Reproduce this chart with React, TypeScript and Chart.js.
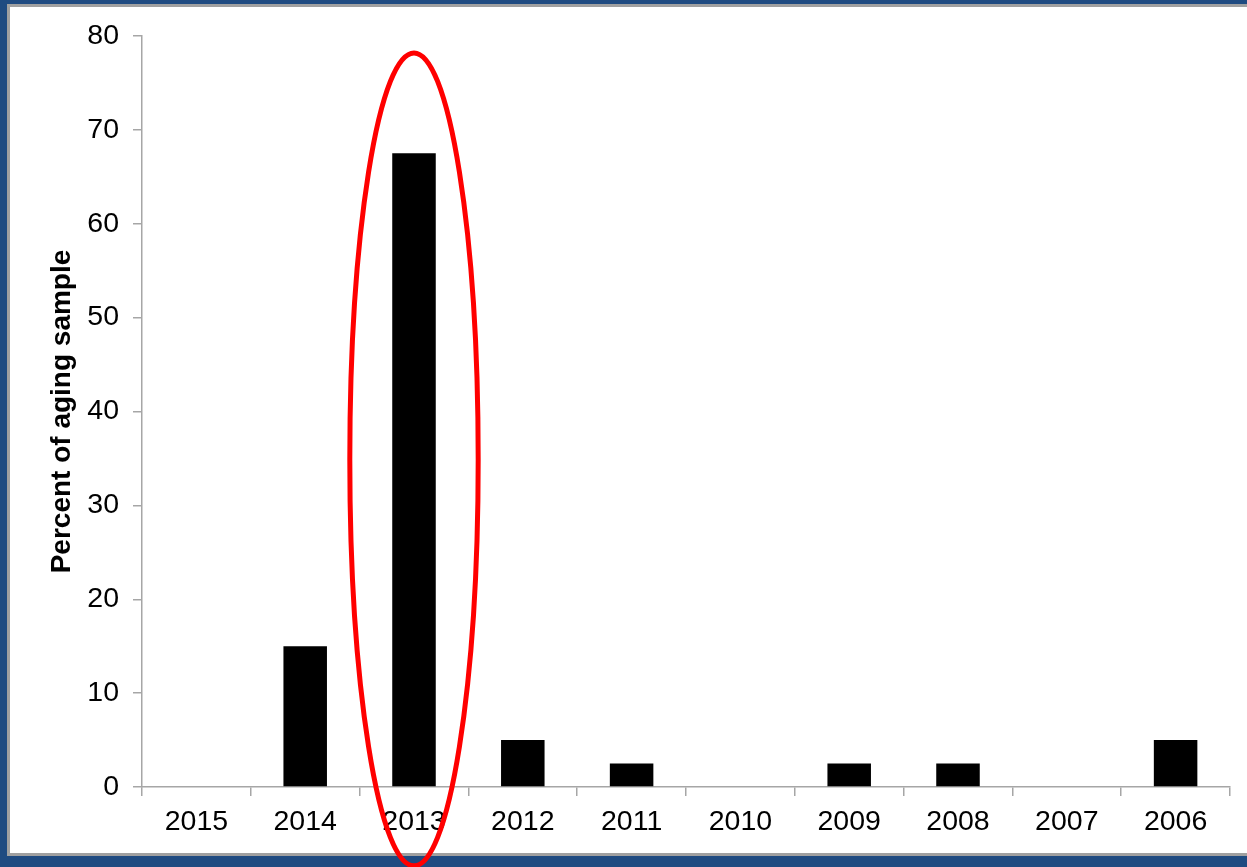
import React, { useEffect, useRef } from "react";
import { Chart, registerables } from "chart.js";

Chart.register(...registerables);

const years = ["2015", "2014", "2013", "2012", "2011", "2010", "2009", "2008", "2007", "2006"];
const percents = [0, 15, 67.5, 5, 2.5, 0, 2.5, 2.5, 0, 5];
const yTicks = [0, 10, 20, 30, 40, 50, 60, 70, 80];
const yTitle = "Percent of aging sample";
const highlightYear = "2013";

const FONT = "'Liberation Sans', Arial, sans-serif";

const ellipsePlugin = {
  id: "highlightEllipse",
  afterDraw(chart: any) {
    const xs = chart.scales.x;
    const ys = chart.scales.y;
    const idx = years.indexOf(highlightYear);
    const cx = xs.getPixelForValue(idx);
    const catW = xs.width / years.length;
    const cy = ys.getPixelForValue(34.9);
    const top = ys.getPixelForValue(78.2);
    const ry = cy - top;
    const rx = catW * 0.59;
    const ctx = chart.ctx;
    ctx.save();
    ctx.beginPath();
    ctx.ellipse(cx, cy, rx, ry, 0, 0, Math.PI * 2);
    ctx.strokeStyle = "#ff0000";
    ctx.lineWidth = 5;
    ctx.stroke();
    ctx.restore();
  },
};

export default function App() {
  const ref = useRef<HTMLCanvasElement | null>(null);

  useEffect(() => {
    if (!ref.current) return;
    const chart = new Chart(ref.current, {
      type: "bar",
      data: {
        labels: years,
        datasets: [
          {
            data: percents,
            backgroundColor: "#000000",
            borderWidth: 0,
            barPercentage: 0.4,
            categoryPercentage: 1,
          },
        ],
      },
      options: {
        responsive: false,
        animation: false,
        layout: { padding: { top: 36, right: 17, bottom: 20, left: 0 } },
        plugins: { legend: { display: false }, tooltip: { enabled: false } },
        scales: {
          x: {
            offset: true,
            grid: {
              offset: true,
              drawOnChartArea: false,
              drawTicks: true,
              tickLength: 9,
              color: "#a6a6a6",
              lineWidth: 1.5,
            },
            border: { color: "#a6a6a6", width: 1.5 },
            ticks: {
              color: "#000000",
              font: { family: FONT, size: 28.5 },
              padding: 9,
              maxRotation: 0,
              autoSkip: false,
            },
            afterFit(scale: any) {
              scale.height = 60;
            },
          },
          y: {
            min: 0,
            max: 80,
            afterBuildTicks(scale: any) {
              scale.ticks = yTicks.map((v) => ({ value: v }));
            },
            grid: {
              drawOnChartArea: false,
              drawTicks: true,
              tickLength: 9,
              color: "#a6a6a6",
              lineWidth: 1.5,
            },
            border: { color: "#a6a6a6", width: 1.5 },
            ticks: {
              color: "#000000",
              font: { family: FONT, size: 28.5 },
              padding: 14,
            },
            title: {
              display: true,
              text: yTitle,
              color: "#000000",
              font: { family: FONT, size: 28, weight: "bold" },
              padding: { top: 45, bottom: 0 },
            },
            afterFit(scale: any) {
              scale.width = 142;
            },
          },
        },
      },
      plugins: [ellipsePlugin],
    } as any);
    return () => chart.destroy();
  }, []);

  return (
    <div style={{ position: "absolute", left: 0, top: 0, width: 1247, height: 867, background: "#1f4b81", overflow: "hidden" }}>
      <div style={{ position: "absolute", left: 7, top: 4, width: 1240, height: 852, background: "#a0a0a0" }} />
      <div style={{ position: "absolute", left: 10, top: 7, width: 1237, height: 846, background: "#ffffff" }} />
      <canvas ref={ref} width={1247} height={867} style={{ position: "absolute", left: 0, top: 0, display: "block" }} />
    </div>
  );
}
